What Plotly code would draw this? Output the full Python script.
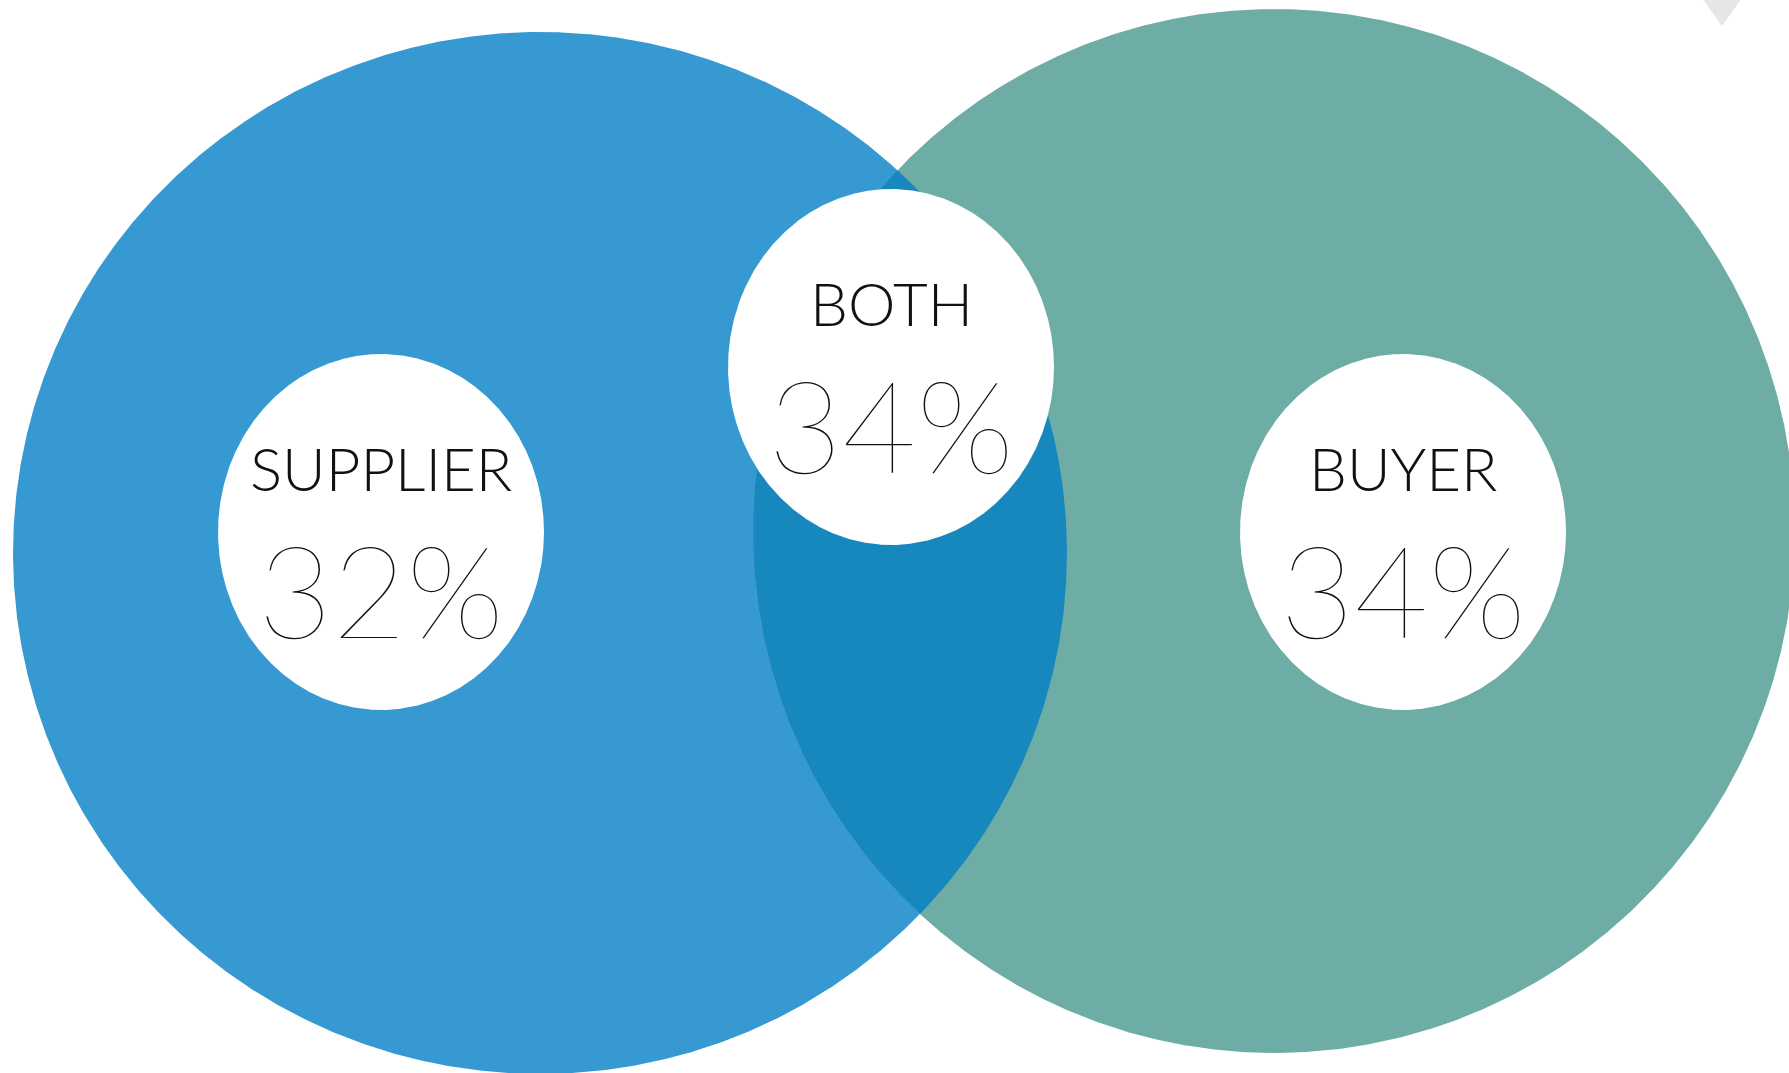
import numpy as np
import plotly.graph_objects as go

# ---- data ----
groups = ["SUPPLIER", "BOTH", "BUYER"]
shares = [32, 34, 34]

# ---- layout constants (pixel space) ----
W, H = 1789, 1073
BLUE, TEAL, OVERLAP = "#3799d2", "#6dada5", "#1688be"
big = {"blue": (540, 553, 527, 521), "teal": (1274, 531, 521, 522)}
bubbles = {"SUPPLIER": (381, 532, 163, 178),
           "BOTH": (891, 367, 163, 178),
           "BUYER": (1403, 532, 163, 178)}
label_dy, value_dy = -64, 56

def ellipse_pts(cx, cy, rx, ry, t):
    return cx + rx * np.cos(t), cy + ry * np.sin(t)

def inside(x, y, e):
    cx, cy, rx, ry = e
    return ((x - cx) / rx) ** 2 + ((y - cy) / ry) ** 2 <= 1

fig = go.Figure()

def add_ellipse(e, color):
    t = np.linspace(0, 2 * np.pi, 1500)
    x, y = ellipse_pts(*e, t)
    fig.add_trace(go.Scatter(x=x, y=y, fill="toself", fillcolor=color, mode="lines",
                             line=dict(width=0, color=color), hoverinfo="skip", showlegend=False))

add_ellipse(big["blue"], BLUE)
add_ellipse(big["teal"], TEAL)

# overlap lens
t1 = np.linspace(0, 2 * np.pi, 4000)
tx, ty = ellipse_pts(*big["teal"], t1)
m = inside(tx, ty, big["blue"])
t2 = np.linspace(-np.pi, np.pi, 4000)
bx, by = ellipse_pts(*big["blue"], t2)
m2 = inside(bx, by, big["teal"])
lx = np.concatenate([tx[m], bx[m2]])
ly = np.concatenate([ty[m], by[m2]])
fig.add_trace(go.Scatter(x=lx, y=ly, fill="toself", fillcolor=OVERLAP, mode="lines",
                         line=dict(width=0, color=OVERLAP), hoverinfo="skip", showlegend=False))

for g in groups:
    add_ellipse(bubbles[g], "#ffffff")

# gray triangle at top right
fig.add_trace(go.Scatter(x=[1702, 1742, 1722], y=[-2, -2, 26], fill="toself", fillcolor="#e6e6e6",
                         mode="lines", line=dict(width=0, color="#e6e6e6"),
                         hoverinfo="skip", showlegend=False))

for g, v in zip(groups, shares):
    cx, cy, _, _ = bubbles[g]
    fig.add_annotation(x=cx, y=cy + label_dy, text=g, showarrow=False,
                       font=dict(family="Lato", size=60, color="#111111", weight=300))
    fig.add_annotation(x=cx, y=cy + value_dy, text=f"{v}%", showarrow=False,
                       font=dict(family="Lato", size=128, color="#111111", weight=100))

fig.update_layout(width=W, height=H, margin=dict(l=0, r=0, t=0, b=0),
                  paper_bgcolor="white", plot_bgcolor="white",
                  xaxis=dict(range=[0, W], visible=False, fixedrange=True),
                  yaxis=dict(range=[H, 0], visible=False, fixedrange=True))
fig.write_html("out.html", config={"displayModeBar": False},
               post_script="document.body.style.margin='0';document.body.style.overflow='hidden';")
